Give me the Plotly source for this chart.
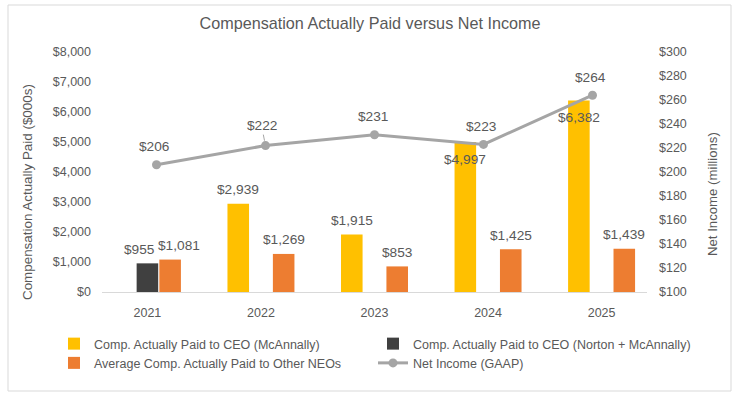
import plotly.graph_objects as go

# ---------------- data ----------------
years = ["2021", "2022", "2023", "2024", "2025"]
ceo_mcannally = [None, 2939, 1915, 4997, 6382]
ceo_norton_mcannally = [955, None, None, None, None]
other_neos = [1081, 1269, 853, 1425, 1439]
net_income = [206, 222, 231, 223, 264]
left_ticks = list(range(0, 8001, 1000))
right_ticks = list(range(100, 301, 20))

series_names = [
    "Comp. Actually Paid to CEO (McAnnally)",
    "Comp. Actually Paid to CEO (Norton + McAnnally)",
    "Average Comp. Actually Paid to Other NEOs",
    "Net Income (GAAP)",
]

# ---------------- style ----------------
FONT = "Liberation Sans, Arial, sans-serif"
TXT = "#595959"
COLORS = ["#FFC000", "#404040", "#ED7D31", "#A5A5A5"]
W, H = 740, 396
ML, MR, MT, MB = 102, 93, 52, 104
PW, PH = W - ML - MR, H - MT - MB
CAT_PX = PW / 4.8
SLOT_PX = 0.2 * CAT_PX


def px_to_paper_x(px):
    return (px - ML) / PW


def px_to_paper_y(py):
    return (H - MB - py) / PH


def money(v):
    return f"${v:,}"


fig = go.Figure()
bar_series = [ceo_mcannally, ceo_norton_mcannally, other_neos]
for i, vals in enumerate(bar_series):
    fig.add_trace(go.Bar(
        x=years, y=vals, name=series_names[i],
        marker=dict(color=COLORS[i], line=dict(width=0)),
        hoverinfo="x+y",
    ))

fig.add_trace(go.Scatter(
    x=years, y=net_income, name=series_names[3],
    xaxis="x2", yaxis="y2", mode="lines+markers",
    line=dict(color=COLORS[3], width=3),
    marker=dict(color=COLORS[3], size=9),
))

annotations = []
label_font = dict(family=FONT, size=13.7, color=TXT)
inside_flags = [
    [False, False, False, True, True],
    [False] * 5,
    [False] * 5,
]
x_adjust = [
    [0, 0, 0, 0, 0],
    [-8, 0, 0, 0, 0],
    [9, 0, 0, 0, 0],
]
# category index positions (numeric-looking category names are resolved by index)
for i, vals in enumerate(bar_series):
    for j, v in enumerate(vals):
        if v is None:
            continue
        annotations.append(dict(
            x=j, y=v, xref="x", yref="y",
            text=money(v), showarrow=False, font=label_font,
            xanchor="center", yanchor="middle",
            xshift=(i - 1) * SLOT_PX + x_adjust[i][j],
            yshift=-17 if inside_flags[i][j] else 14,
        ))

leader = [False, True, False, False, False]
for j, v in enumerate(net_income):
    if leader[j]:
        annotations.append(dict(
            x=j, y=v, xref="x2", yref="y2", text=money(v),
            showarrow=True, arrowhead=0, arrowwidth=1, arrowcolor="#A6A6A6",
            ax=-4, ay=-20, standoff=5, font=label_font,
        ))
    else:
        annotations.append(dict(
            x=j, y=v, xref="x2", yref="y2", text=money(v),
            showarrow=False, font=label_font, yanchor="middle",
            xshift=-2, yshift=18,
        ))

annotations.append(dict(
    x=px_to_paper_x(28), y=px_to_paper_y(192), xref="paper", yref="paper",
    text="Compensation Actually Paid ($000s)", textangle=-90, showarrow=False,
    font=dict(family=FONT, size=13.4, color=TXT), xanchor="center", yanchor="middle",
))
annotations.append(dict(
    x=px_to_paper_x(712), y=px_to_paper_y(194), xref="paper", yref="paper",
    text="Net Income (millions)", textangle=-90, showarrow=False,
    font=dict(family=FONT, size=13.2, color=TXT), xanchor="center", yanchor="middle",
))

tick_font = dict(family=FONT, size=12.5, color=TXT)

fig.update_layout(
    width=W, height=H,
    margin=dict(l=ML, r=MR, t=MT, b=MB, autoexpand=False),
    paper_bgcolor="white", plot_bgcolor="white",
    font=dict(family=FONT, color=TXT),
    title=dict(text="Compensation Actually Paid versus Net Income",
               x=0.5, xref="container", xanchor="center",
               y=1 - 23 / H, yref="container", yanchor="middle",
               font=dict(family=FONT, size=16.2, color=TXT)),
    barmode="group", bargap=0.4, bargroupgap=0.05,
    xaxis=dict(type="category", range=[-0.4, 4.4], showline=True,
               linecolor="#D9D9D9", linewidth=1, showgrid=False, ticks="",
               tickfont=tick_font, ticklabelstandoff=9, fixedrange=True),
    xaxis2=dict(type="category", range=[-0.5, 4.5], overlaying="x",
                visible=False, fixedrange=True),
    yaxis=dict(range=[0, 8000], tickvals=left_ticks,
               ticktext=[money(v) for v in left_ticks],
               showgrid=False, zeroline=False, showline=False,
               ticks="", tickfont=tick_font, ticklabelstandoff=10, fixedrange=True),
    yaxis2=dict(range=[100, 300], tickvals=right_ticks,
                ticktext=[money(v) for v in right_ticks],
                overlaying="y", side="right", anchor="x",
                showgrid=False, zeroline=False, showline=False, ticks="",
                tickfont=tick_font, ticklabelstandoff=11, fixedrange=True),
    legend=dict(orientation="h", x=px_to_paper_x(54), y=px_to_paper_y(329),
                xanchor="left", yanchor="top",
                entrywidth=274, entrywidthmode="pixels",
                font=dict(family=FONT, size=12.5, color=TXT),
                bgcolor="rgba(0,0,0,0)", itemclick=False, itemdoubleclick=False),
    annotations=annotations,
    shapes=[dict(type="rect", xref="paper", yref="paper",
                 x0=px_to_paper_x(8), x1=px_to_paper_x(731),
                 y0=px_to_paper_y(391), y1=px_to_paper_y(5),
                 line=dict(color="#D9D9D9", width=1), fillcolor="rgba(0,0,0,0)",
                 layer="below")],
    hovermode="closest",
)

fig.write_html("out.html", config={"displayModeBar": False},
               post_script="document.body.style.margin='0';")
